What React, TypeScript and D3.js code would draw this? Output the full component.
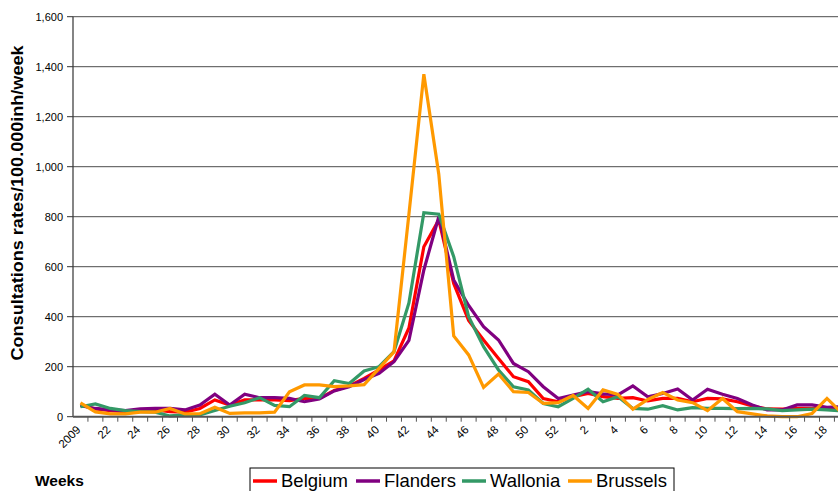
import React from 'react';
import * as d3 from 'd3';

// weekly ILI consultation rates, 2009 week 20 -> 2010 week 19
const weeks = [
  20, 21, 22, 23, 24, 25, 26, 27, 28, 29, 30, 31, 32, 33, 34, 35, 36, 37, 38, 39, 40, 41, 42, 43, 44, 45, 46,
  47, 48, 49, 50, 51, 52, 1, 2, 3, 4, 5, 6, 7, 8, 9, 10, 11, 12, 13, 14, 15, 16, 17, 18, 19,
];

const belgium = [
  47, 31, 24, 20, 24, 27, 20, 18, 33, 67, 47, 67, 67, 67, 64, 73, 73, 105, 123, 153, 187, 223, 355, 680, 787, 533,
  385, 307, 233, 160, 140, 73, 60, 80, 93, 80, 73, 76, 63, 73, 73, 60, 73, 71, 60, 43, 31, 30, 33, 33, 33, 35,
];
const flanders = [
  44, 33, 27, 24, 31, 33, 33, 27, 47, 90, 47, 90, 76, 76, 73, 60, 71, 103, 120, 149, 173, 220, 305, 587, 800, 547,
  445, 360, 307, 213, 180, 120, 73, 87, 100, 91, 87, 123, 80, 93, 111, 67, 110, 90, 73, 47, 27, 27, 47, 47, 37, 40,
];
const wallonia = [
  40, 51, 33, 24, 20, 18, 3, 7, 7, 25, 42, 56, 76, 45, 40, 85, 76, 144, 133, 183, 200, 260, 455, 816, 810, 640,
  400, 280, 187, 120, 107, 53, 40, 73, 110, 60, 80, 33, 30, 44, 27, 36, 33, 33, 32, 33, 31, 24, 27, 30, 27, 23,
];
const brussels = [
  55, 19, 11, 11, 18, 18, 33, 11, 12, 38, 13, 15, 15, 18, 100, 127, 127, 120, 123, 128, 193, 260, 810, 1370, 970,
  323, 247, 117, 171, 100, 97, 53, 56, 85, 33, 107, 89, 30, 69, 97, 67, 56, 24, 73, 20, 11, 3, 0, 0, 13, 73, 15,
];

const seriesNames = ['Belgium', 'Flanders', 'Wallonia', 'Brussels'];
const seriesColors = ['#ff0000', '#800080', '#339966', '#ff9900'];
const yTicks = [0, 200, 400, 600, 800, 1000, 1200, 1400, 1600];

const W = 838;
const H = 491;
const FONT = '"Liberation Sans", Arial, sans-serif';

export default function App() {
  const left = 73;
  const top = 16.7;
  const bottom = 416.7;
  const step = 14.93;
  const idx = weeks.map((_, i) => i);

  const x = d3.scaleBand<number>().domain(idx).range([left, left + step * weeks.length]).padding(0);
  const y = d3.scaleLinear().domain([0, 1600]).range([bottom, top]);
  const cx = (i: number) => (x(i) || 0) + x.bandwidth() / 2;
  const right = left + step * weeks.length;

  const line = d3
    .line<number>()
    .x((_, i) => cx(i))
    .y((d) => y(d));

  const data = [belgium, flanders, wallonia, brussels];
  const fmt = d3.format(',');

  // legend geometry
  const legX = [253, 356, 462, 568];

  return (
    <svg
      width={W}
      height={H}
      style={{ position: 'absolute', left: 0, top: 0, background: '#fff' }}
      fontFamily={FONT}
    >
      {/* gridlines */}
      {yTicks.slice(1).map((t) => (
        <line key={t} x1={left} x2={right} y1={y(t)} y2={y(t)} stroke="#4d4d4d" strokeWidth={1} />
      ))}

      {/* y axis */}
      <line x1={left} x2={left} y1={top} y2={bottom} stroke="#333" strokeWidth={1.2} />
      {yTicks.map((t) => (
        <g key={t}>
          <line x1={left - 6} x2={left} y1={y(t)} y2={y(t)} stroke="#333" />
          <text x={left - 10} y={y(t)} dy="0.35em" textAnchor="end" fontSize={11} fill="#000">
            {fmt(t)}
          </text>
        </g>
      ))}

      {/* series */}
      {data.map((s, k) => (
        <path
          key={k}
          d={line(s) || ''}
          fill="none"
          stroke={seriesColors[k]}
          strokeWidth={3.2}
          strokeLinejoin="miter"
        />
      ))}

      {/* x axis */}
      <line x1={left} x2={right} y1={bottom} y2={bottom} stroke="#555" strokeWidth={2} />
      {idx.map((i) => (
        <line key={i} x1={x(i)! + step} x2={x(i)! + step} y1={bottom} y2={bottom + 5} stroke="#555" />
      ))}
      {idx
        .filter((i) => i % 2 === 0)
        .map((i) => (
          <text
            key={i}
            transform={`translate(${cx(i) - 2},${bottom + 11}) rotate(-45)`}
            textAnchor="end"
            dy="0.35em"
            fontSize={11.5}
            fill="#000"
          >
            {i === 0 ? '2009' : weeks[i]}
          </text>
        ))}

      {/* axis titles */}
      <text
        transform={`translate(23,203) rotate(-90)`}
        textAnchor="middle"
        fontSize={16}
        fontWeight="bold"
        fill="#000"
        textLength={315}
        lengthAdjust="spacingAndGlyphs"
      >
        Consultations rates/100.000inh/week
      </text>
      <text x={35} y={486} fontSize={15.5} fontWeight="bold" fill="#000">
        Weeks
      </text>

      {/* legend */}
      <rect x={250} y={468} width={424} height={30} fill="#fff" stroke="#000" strokeWidth={1} />
      {seriesNames.map((n, k) => (
        <g key={n}>
          <line x1={legX[k]} x2={legX[k] + 24} y1={481} y2={481} stroke={seriesColors[k]} strokeWidth={3.5} />
          <text x={legX[k] + 28} y={487} fontSize={18.5} fill="#000">
            {n}
          </text>
        </g>
      ))}
    </svg>
  );
}
